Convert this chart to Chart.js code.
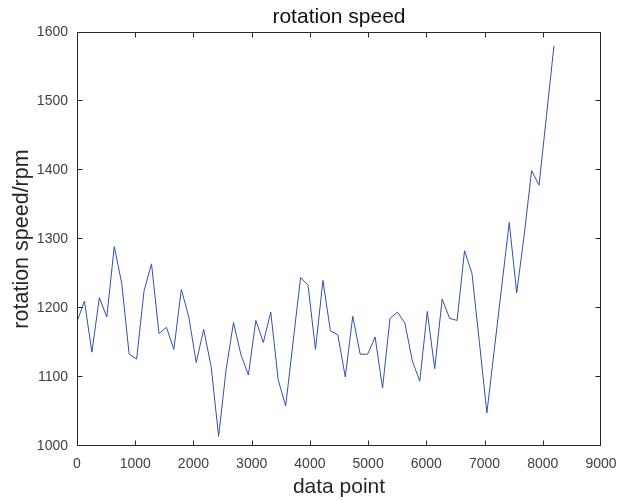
<!DOCTYPE html>
<html>
<head>
<meta charset="utf-8">
<script src="https://cdn.jsdelivr.net/npm/chart.js@4/dist/chart.umd.min.js"></script>
<style>
  html, body { margin: 0; padding: 0; background: #fff; }
  #wrap { width: 619px; height: 500px; }
</style>
</head>
<body>
<div id="wrap"><canvas id="myChart" width="619" height="500"></canvas></div>
<script>
// sample positions (data point index)
const dataPoints = [
    0, 128, 256, 384, 512, 640, 768, 896, 1024, 1152,
    1280, 1408, 1536, 1664, 1792, 1920, 2048, 2176, 2304, 2432,
    2560, 2688, 2816, 2944, 3072, 3200, 3328, 3456, 3584, 3712,
    3840, 3968, 4096, 4224, 4352, 4480, 4608, 4736, 4864, 4992,
    5120, 5248, 5376, 5504, 5632, 5760, 5888, 6016, 6144, 6272,
    6400, 6528, 6656, 6784, 6912, 7040, 7168, 7296, 7424, 7552,
    7680, 7808, 7936, 8064, 8192
];
// rotation speed in rpm
const rotationSpeed = [
    1180, 1210, 1136, 1215, 1187, 1289, 1236, 1133, 1126, 1225,
    1264, 1163, 1172, 1140, 1227, 1187, 1121, 1169, 1115, 1014,
    1110, 1179, 1132, 1103, 1182, 1150, 1194, 1096, 1058, 1151,
    1244, 1233, 1140, 1240, 1167, 1161, 1100, 1188, 1133, 1133,
    1158, 1084, 1185, 1194, 1178, 1123, 1094, 1195, 1112, 1213,
    1185, 1182, 1283, 1250, 1150, 1048, 1140, 1232, 1324, 1222,
    1305, 1399, 1378, 1479, 1580
];
const xTicks = [0, 1000, 2000, 3000, 4000, 5000, 6000, 7000, 8000, 9000];
const yTicks = [1000, 1100, 1200, 1300, 1400, 1500, 1600];
const chartTitle = 'rotation speed';

const fontFamily = "'Liberation Sans', Arial, Helvetica, sans-serif";

// box + inward ticks on all four sides (matlab style), title centred over the axes
const boxPlugin = {
    id: 'boxPlugin',
    afterDraw(chart) {
        const ctx = chart.ctx;
        const a = chart.chartArea;
        const xs = chart.scales.x;
        const ys = chart.scales.y;
        const len = 5;
        ctx.save();
        ctx.strokeStyle = '#262626';
        ctx.lineWidth = 1;
        ctx.beginPath();
        const l = Math.round(a.left) + 0.5, r = Math.round(a.right) - 0.5;
        const t = Math.round(a.top) + 0.5, b = Math.round(a.bottom) - 0.5;
        ctx.rect(l, t, r - l, b - t);
        xTicks.forEach(v => {
            const px = Math.min(r, Math.round(xs.getPixelForValue(v)) + 0.5);
            ctx.moveTo(px, b); ctx.lineTo(px, b - len);
            ctx.moveTo(px, t); ctx.lineTo(px, t + len);
        });
        yTicks.forEach(v => {
            const py = Math.max(t, Math.round(ys.getPixelForValue(v)) - 0.5);
            ctx.moveTo(l, py); ctx.lineTo(l + len, py);
            ctx.moveTo(r, py); ctx.lineTo(r - len, py);
        });
        ctx.stroke();

        ctx.fillStyle = '#111';
        ctx.font = '21px ' + fontFamily;
        ctx.textAlign = 'center';
        ctx.textBaseline = 'middle';
        ctx.fillText(chartTitle, (a.left + a.right) / 2, 17);
        ctx.restore();
    }
};

const ctx = document.getElementById('myChart').getContext('2d');
const myChart = new Chart(ctx, {
    type: 'line',
    data: {
        datasets: [{
            label: chartTitle,
            data: dataPoints.map((x, i) => ({ x: x, y: rotationSpeed[i] })),
            borderColor: '#3050b0',
            borderWidth: 1,
            pointRadius: 0,
            tension: 0,
            fill: false
        }]
    },
    options: {
        responsive: false,
        animation: false,
        layout: { padding: { left: 0, right: 18, top: 32, bottom: 0 } },
        plugins: {
            legend: { display: false },
            tooltip: { enabled: false },
            title: { display: false }
        },
        scales: {
            x: {
                type: 'linear',
                min: 0,
                max: 9000,
                afterBuildTicks: (s) => { s.ticks = xTicks.map(v => ({ value: v })); },
                afterFit: (s) => { s.height = 54; s.paddingLeft = 0; s.paddingRight = 0; },
                grid: { display: false, drawTicks: false },
                border: { display: false },
                ticks: {
                    color: '#404040',
                    padding: 10,
                    maxRotation: 0,
                    autoSkip: false,
                    font: { family: fontFamily, size: 14 },
                    callback: (v) => String(v)
                },
                title: {
                    display: true,
                    text: 'data point',
                    color: '#262626',
                    font: { family: fontFamily, size: 21 },
                    padding: { top: 0, bottom: 0 }
                }
            },
            y: {
                min: 1000,
                max: 1600,
                afterBuildTicks: (s) => { s.ticks = yTicks.map(v => ({ value: v })); },
                afterFit: (s) => { s.width = 77; s.paddingTop = 0; s.paddingBottom = 0; },
                grid: { display: false, drawTicks: false },
                border: { display: false },
                ticks: {
                    color: '#404040',
                    padding: 9,
                    autoSkip: false,
                    font: { family: fontFamily, size: 14 },
                    callback: (v) => String(v)
                },
                title: {
                    display: true,
                    text: 'rotation speed/rpm',
                    color: '#262626',
                    font: { family: fontFamily, size: 21.5 },
                    padding: { top: 9, bottom: 0 }
                }
            }
        }
    },
    plugins: [boxPlugin]
});
</script>
</body>
</html>
